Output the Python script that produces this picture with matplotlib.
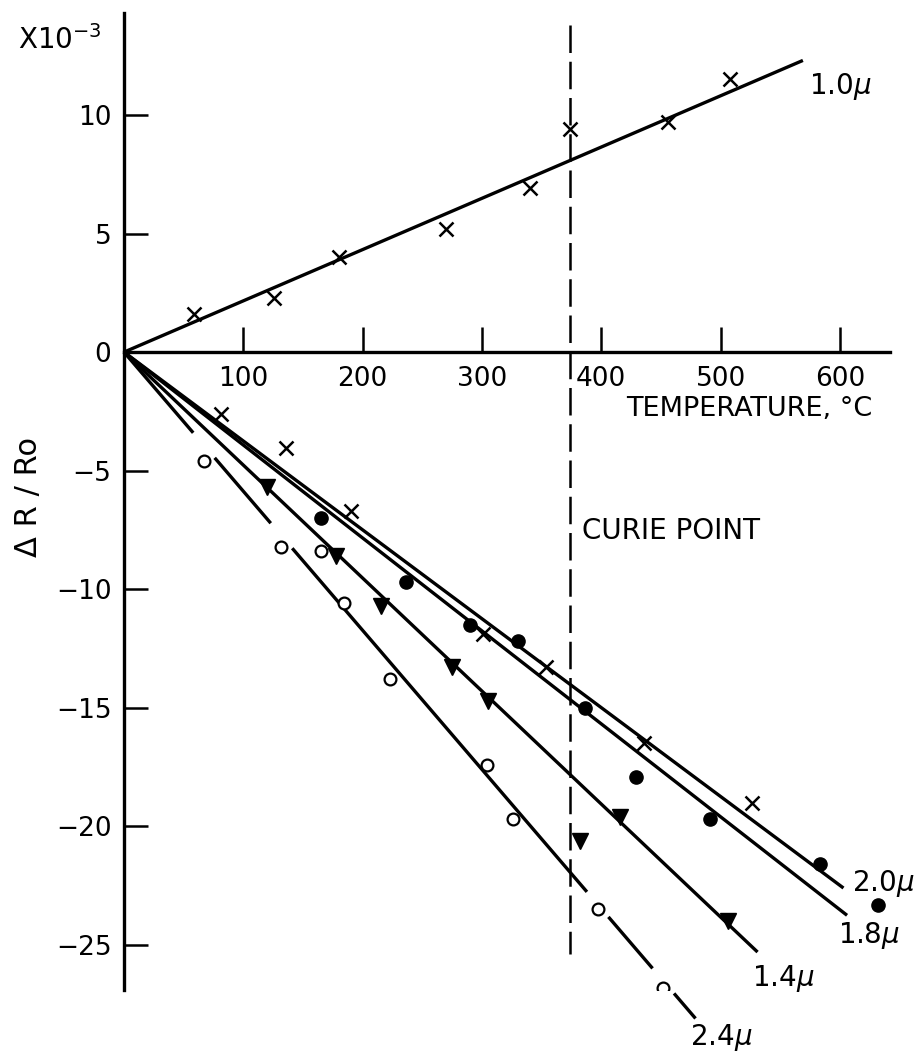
import matplotlib
matplotlib.use('Agg')
import matplotlib.pyplot as plt
import numpy as np

# values (temperature in deg C, dR/R0 in units of 1e-3)
temp_10 = [59, 126, 180, 270, 340, 374, 456, 508]
val_10 = [1.6, 2.3, 4.0, 5.2, 6.9, 9.4, 9.7, 11.5]

temp_x_low = [81, 136, 190, 301, 354, 436, 526]
val_x_low = [-2.6, -4.05, -6.7, -11.9, -13.3, -16.5, -19.0]

temp_dot = [165, 236, 290, 330, 386, 429, 491, 583, 632]
val_dot = [-7.0, -9.7, -11.5, -12.2, -15.0, -17.9, -19.7, -21.6, -23.3]

temp_tri = [120, 178, 215, 275, 305, 382, 416, 506]
val_tri = [-5.7, -8.6, -10.7, -13.3, -14.7, -20.6, -19.6, -24.0]

temp_open = [67, 132, 165, 184, 223, 304, 326, 397, 452]
val_open = [-4.6, -8.2, -8.4, -10.6, -13.8, -17.4, -19.7, -23.5, -26.8]
open_gaps = [0, 1, 7, 8]   # circles where the drawn line is broken

# fitted straight lines, all starting at the origin
line_names = ['1.0', '2.0', '1.8', '1.4', '2.4']
line_end_temp = [569, 603, 606, 531, 479]
line_end_val = [12.3, -22.6, -23.75, -25.3, -28.1]
label_temp = [574, 610, 598, 526, 474]
label_val = [11.2, -22.4, -24.6, -26.4, -28.9]

curie_temp = 374

W, H = 924, 1055
fig = plt.figure(figsize=(W / 100, H / 100), dpi=100)
ax = fig.add_axes([124 / W, 1 - 990 / H, (890 - 124) / W, (990 - 13) / H])
ax.set_xlim(0, 642)
ax.set_ylim(-26.9, 14.3)

lw = 2.4
for i, name in enumerate(line_names):
    if name == '2.4':
        slope = line_end_val[i] / line_end_temp[i]
        cuts = [0]
        for g in open_gaps:
            cuts += [temp_open[g] - 9, temp_open[g] + 9]
        cuts.append(line_end_temp[i])
        for a, b in zip(cuts[::2], cuts[1::2]):
            ax.plot([a, b], [a * slope, b * slope], color='black', lw=lw,
                    solid_capstyle='butt', clip_on=False)
    else:
        ax.plot([0, line_end_temp[i]], [0, line_end_val[i]], color='black', lw=lw,
                solid_capstyle='butt', clip_on=False)
    ax.text(label_temp[i], label_val[i], name + r'$\mu$', fontsize=20,
            ha='left', va='center')

ax.plot(temp_10, val_10, 'x', color='black', ms=10, mew=1.8)
ax.plot(temp_x_low, val_x_low, 'x', color='black', ms=10, mew=1.8)
ax.plot(temp_dot, val_dot, 'o', color='black', ms=9.5, clip_on=False)
ax.plot(temp_tri, val_tri, 'v', color='black', ms=11)
ax.plot(temp_open, val_open, 'o', mfc='white', mec='black', ms=8.5, mew=1.6, zorder=3)

ax.plot([curie_temp, curie_temp], [13.8, -25.4], color='black', lw=1.8,
        dashes=(11, 3.5), clip_on=False)
ax.text(384, -7.55, 'CURIE POINT', fontsize=20, ha='left', va='center')
ax.text(421, -2.4, 'TEMPERATURE, °C', fontsize=19.5, ha='left', va='center')

ax.spines['top'].set_visible(False)
ax.spines['right'].set_visible(False)
ax.spines['bottom'].set_position(('data', 0))
ax.spines['left'].set_linewidth(2.4)
ax.spines['bottom'].set_linewidth(2.4)

ax.set_xticks([100, 200, 300, 400, 500, 600])
ax.set_yticks([-25, -20, -15, -10, -5, 0, 5, 10])
ax.set_yticklabels(['−25', '−20', '−15', '−10', '−5', '0', '5', '10'])
ax.tick_params(axis='x', direction='in', length=18, width=1.8, pad=10, labelsize=19)
ax.tick_params(axis='y', direction='in', length=17, width=1.8, pad=9, labelsize=19)

fig.text(18 / W, 1 - 40 / H, r'X10$^{-3}$', fontsize=20, ha='left', va='center')
fig.text(28 / W, 1 - 497 / H, 'Δ R / Ro', fontsize=22, rotation=90,
         ha='center', va='center')

fig.savefig('out.png', dpi=100)
